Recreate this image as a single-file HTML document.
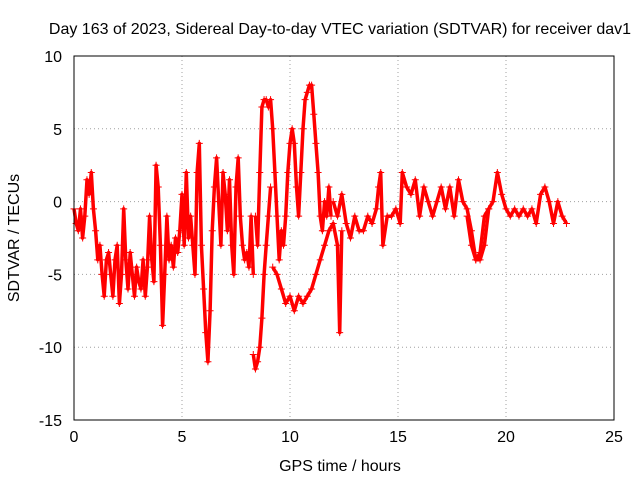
<!DOCTYPE html>
<html><head><meta charset="utf-8"><style>
body{margin:0;background:#fff}
svg{display:block;font-family:"Liberation Sans",sans-serif}
</style></head><body>
<svg id="chart" width="640" height="480">
<text x="340" y="34" text-anchor="middle" font-size="16">Day 163 of 2023, Sidereal Day-to-day VTEC variation (SDTVAR) for receiver dav1</text>
<text x="340" y="471" text-anchor="middle" font-size="16">GPS time / hours</text>
<text x="19" y="238" text-anchor="middle" font-size="16" transform="rotate(-90 19 238)">SDTVAR / TECUs</text>
<g id="grid"></g>
<g id="marks"></g>
<rect x="74" y="56" width="540" height="364" fill="none" stroke="#000" stroke-width="1"/>
</svg>
<script>
const xTicks=[0,5,10,15,20,25];
const yTicks=[10,5,0,-5,-10,-15];
const traceA_t=[0,0.1,0.2,0.3,0.4,0.5,0.6,0.7,0.8,0.9,1.0,1.1,1.2,1.3,1.4,1.5,1.6,1.7,1.8,1.9,2.0,2.1,2.2,2.3,2.4,2.5,2.6,2.7,2.8,2.9,3.0,3.1,3.2,3.3,3.4,3.5,3.6,3.7,3.8,3.9,4.0,4.1,4.2,4.3,4.4,4.5,4.6,4.7,4.8,4.9,5.0,5.1,5.2,5.3,5.4,5.5,5.6,5.7,5.8,5.9,6.0,6.1,6.2,6.3,6.4,6.5,6.6,6.7,6.8,6.9,7.0,7.1,7.2,7.3,7.4,7.5,7.6,7.7,7.8,7.9,8.0,8.1,8.2,8.3];
const traceA_v=[-0.5,-1.5,-2,-0.5,-2.5,-1,1.5,0.5,2,-0.5,-2,-4,-3,-5,-6.5,-4,-3.5,-5,-6.5,-4,-3,-7,-5,-0.5,-4,-6,-3.5,-5,-6.5,-4.5,-5.5,-6,-4,-6.5,-4.5,-1,-4,-5.5,2.5,1,-3,-8.5,-5,-1,-4,-3,-4.5,-2.5,-3.5,-2,0.5,-3,2,-2.5,-1,-3,-5,2,4,-3,-6,-9,-11,-7.5,-2,1,3,0,-3,2,0.5,-2,1.5,-3,-5,1,3,-1,-3,-4,-3.5,-4.5,-1,-5];
const traceB_t=[8.3,8.4,8.5,8.6,8.7,8.8,8.9,9.0,9.1];
const traceB_v=[-10.5,-11.5,-11,-10,-8,-5,-3,-1,1];
const traceC_t=[8.4,8.5,8.6,8.7,8.8,8.9,9.0,9.1,9.2,9.3,9.4,9.5,9.6,9.7,9.8,9.9,10.0,10.1,10.2,10.3,10.4,10.5,10.6,10.7,10.8,10.9,11.0,11.1,11.2,11.3,11.4,11.5,11.6,11.7,11.8,11.9];
const traceC_v=[-1,-3,2,6.5,7,7,6.5,7,5,2,-1,-4,-2,-3,-1,2,4,5,4,1,-1,2,5,7,7.5,8,8,6,4,2,-1,-2,0,-1,1,-1];
const traceD_t=[9.2,9.4,9.6,9.8,10.0,10.2,10.4,10.6,10.8,11.0,11.2,11.4,11.6,11.8,12.0,12.2,12.3,12.4];
const traceD_v=[-4.5,-5,-6,-7,-6.5,-7.5,-6.5,-7,-6.5,-6,-5,-4,-3,-2,-1.5,-3,-9,-2];
const traceE_t=[12.0,12.2,12.4,12.6,12.8,13.0,13.2,13.4,13.6,13.8,14.0,14.1,14.2,14.3,14.5,14.7,14.9,15.1,15.2,15.4,15.6,15.8,16.0,16.2,16.4,16.6,16.8,17.0,17.2,17.4,17.6,17.8,18.0,18.2,18.4,18.6,18.8,19.0,19.2,19.4,19.6,19.8,20.0,20.2,20.4,20.6,20.8,21.0,21.2,21.4,21.6,21.8,22.0,22.2,22.4,22.6,22.8];
const traceE_v=[0,-1,0.5,-1.5,-2.5,-1,-2,-2,-1,-1.5,-0.5,1,2,-3,-1,-1,-0.5,-1.5,2,1,0.5,1.5,-1,1,0,-1,0,1,-0.5,1,-1,1.5,0,-0.5,-2,-4,-3.5,-1,-0.5,0,2,0.5,-0.5,-1,-0.5,-1,-0.5,-1,-0.5,-1.5,0.5,1,0,-1.5,0,-1,-1.5];
const traceF_t=[18.2,18.4,18.6,18.8,19.0,19.2];
const traceF_v=[-1,-3,-4,-4,-3,-0.5];

const NS='http://www.w3.org/2000/svg';
const X0=74,X1=614,Y0=420,Y1=56;
function xs(t){return X0+(t-0)/(25-0)*(X1-X0);}
function ys(v){return Y0-(v-(-15))/(10-(-15))*(Y0-Y1);}
const grid=document.getElementById('grid');
const marks=document.getElementById('marks');
xTicks.forEach(t=>{
  const x=xs(t);
  if(t>0&&t<25){const l=document.createElementNS(NS,'line');
  l.setAttribute('x1',x);l.setAttribute('x2',x);l.setAttribute('y1',Y1);l.setAttribute('y2',Y0);
  l.setAttribute('stroke','#a0a0a0');l.setAttribute('stroke-dasharray','1,3');
  
  
  grid.appendChild(l);}
  const tk=document.createElementNS(NS,'text');
  tk.setAttribute('x',x);tk.setAttribute('y',Y0+22);tk.setAttribute('text-anchor','middle');tk.setAttribute('font-size','16');
  tk.textContent=t;
  
  
  grid.appendChild(tk);
});
yTicks.forEach(v=>{
  const y=ys(v);
  if(v<10&&v>-15){const l=document.createElementNS(NS,'line');
  l.setAttribute('x1',X0);l.setAttribute('x2',X1);l.setAttribute('y1',y);l.setAttribute('y2',y);
  l.setAttribute('stroke','#a0a0a0');l.setAttribute('stroke-dasharray','1,3');
  
  
  grid.appendChild(l);}
  const tk=document.createElementNS(NS,'text');
  tk.setAttribute('x',X0-12);tk.setAttribute('y',y+6);tk.setAttribute('text-anchor','end');tk.setAttribute('font-size','16');
  tk.textContent=v;
  
  
  grid.appendChild(tk);
});
function trace(ts,vs,name){
  let d='';
  ts.forEach((t,i)=>{d+=(i?'L':'M')+xs(t).toFixed(1)+','+ys(vs[i]).toFixed(1);});
  const p=document.createElementNS(NS,'path');
  p.setAttribute('d',d);p.setAttribute('fill','none');p.setAttribute('stroke','#f00');p.setAttribute('stroke-width','3.5');p.setAttribute('stroke-linejoin','round');
  
  
  marks.appendChild(p);
  ts.forEach((t,i)=>{
    const x=xs(t),y=ys(vs[i]);
    const m=document.createElementNS(NS,'path');
    m.setAttribute('d',`M${x-3.5},${y}H${x+3.5}M${x},${y-3.5}V${y+3.5}`);
    m.setAttribute('stroke','#f00');m.setAttribute('stroke-width','1');
    
    
    marks.appendChild(m);
  });
}
trace(traceA_t,traceA_v,'trace-a');
trace(traceB_t,traceB_v,'trace-b');
trace(traceC_t,traceC_v,'trace-c');
trace(traceD_t,traceD_v,'trace-d');
trace(traceE_t,traceE_v,'trace-e');
trace(traceF_t,traceF_v,'trace-f');
</script>
</body></html>
